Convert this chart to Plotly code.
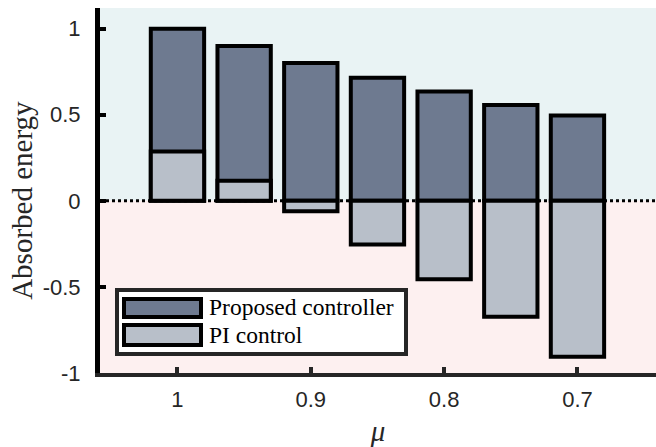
import plotly.graph_objects as go

# ---- data ----
mu = [1.0, 0.95, 0.9, 0.85, 0.8, 0.75, 0.7]
proposed = [1.0, 0.9, 0.8, 0.715, 0.635, 0.557, 0.495]
pi_control = [0.287, 0.116, -0.06, -0.254, -0.455, -0.674, -0.905]
x_tick_vals = [1.0, 0.9, 0.8, 0.7]
x_tick_text = ["1", "0.9", "0.8", "0.7"]
y_tick_vals = [-1, -0.5, 0, 0.5, 1]
y_tick_text = ["-1", "-0.5", "0", "0.5", "1"]
series_names = ["Proposed controller", "PI control"]

# ---- style ----
DARK = "#6e7a90"
LIGHT = "#b8bfc9"
BG_TOP = "#e9f3f4"
BG_BOT = "#fdf0f0"
AXC = "#262626"
SERIF = "Times New Roman"
SANS = "Arial"

W, H = 656, 447
L, R, T, B = 100, 0, 8, 74
PW, PH = W - L - R, H - T - B


def px(x):
    return (x - L) / PW


def py(y):
    return (H - B - y) / PH


fig = go.Figure()
fig.add_trace(go.Bar(
    x=mu, y=proposed, name=series_names[0], width=0.04,
    marker=dict(color=DARK, line=dict(color="black", width=4)),
    showlegend=False,
))
fig.add_trace(go.Bar(
    x=mu, y=pi_control, name=series_names[1], width=0.04,
    marker=dict(color=LIGHT, line=dict(color="black", width=4)),
    showlegend=False,
))

shapes = [
    dict(type="rect", xref="paper", yref="y", x0=0, x1=1, y0=0, y1=1.12,
         fillcolor=BG_TOP, line=dict(width=0), layer="below"),
    dict(type="rect", xref="paper", yref="y", x0=0, x1=1, y0=-1, y1=0,
         fillcolor=BG_BOT, line=dict(width=0), layer="below"),
    dict(type="line", xref="paper", yref="y", x0=0, x1=1, y0=0, y1=0,
         line=dict(color="black", width=3, dash="dot"), layer="below"),
    # legend box
    dict(type="rect", xref="paper", yref="paper", x0=px(117), x1=px(406),
         y0=py(354), y1=py(290), fillcolor="white",
         line=dict(color=AXC, width=4), layer="above"),
    dict(type="rect", xref="paper", yref="paper", x0=px(124), x1=px(201),
         y0=py(317), y1=py(299), fillcolor=DARK,
         line=dict(color="black", width=4), layer="above"),
    dict(type="rect", xref="paper", yref="paper", x0=px(124), x1=px(201),
         y0=py(345), y1=py(325), fillcolor=LIGHT,
         line=dict(color="black", width=4), layer="above"),
]

annotations = [
    dict(text=series_names[0], xref="paper", yref="paper", x=px(207), y=py(307),
         xanchor="left", yanchor="middle", showarrow=False,
         font=dict(family=SERIF, size=23.5, color="black")),
    dict(text=series_names[1], xref="paper", yref="paper", x=px(207), y=py(335),
         xanchor="left", yanchor="middle", showarrow=False,
         font=dict(family=SERIF, size=23.5, color="black")),
    dict(text="Absorbed energy", xref="paper", yref="y", x=px(22), y=0,
         xanchor="center", yanchor="middle", textangle=-90, showarrow=False,
         font=dict(family=SERIF, size=29, color=AXC)),
]

fig.update_layout(
    width=W, height=H,
    margin=dict(l=L, r=R, t=T, b=B, pad=0),
    paper_bgcolor="white", plot_bgcolor="white",
    barmode="overlay",
    shapes=shapes, annotations=annotations,
    showlegend=False,
    xaxis=dict(
        range=[1.0581, 0.6411], tickvals=x_tick_vals, ticktext=x_tick_text,
        showgrid=False, zeroline=False, showline=True, linecolor=AXC, linewidth=4,
        ticks="inside", ticklen=6, tickwidth=4, tickcolor=AXC,
        tickfont=dict(family=SANS, size=22, color=AXC), ticklabelstandoff=4,
        title=dict(text="<i>μ</i>", font=dict(family=SERIF, size=29, color=AXC), standoff=12),
    ),
    yaxis=dict(
        range=[-1, 1.12], tickvals=y_tick_vals, ticktext=y_tick_text,
        showgrid=False, zeroline=False, showline=True, linecolor="black", linewidth=5,
        ticks="inside", ticklen=6, tickwidth=4, tickcolor="black",
        tickfont=dict(family=SANS, size=22, color=AXC), ticklabelstandoff=10,
    ),
)

fig.write_html("out.html")
